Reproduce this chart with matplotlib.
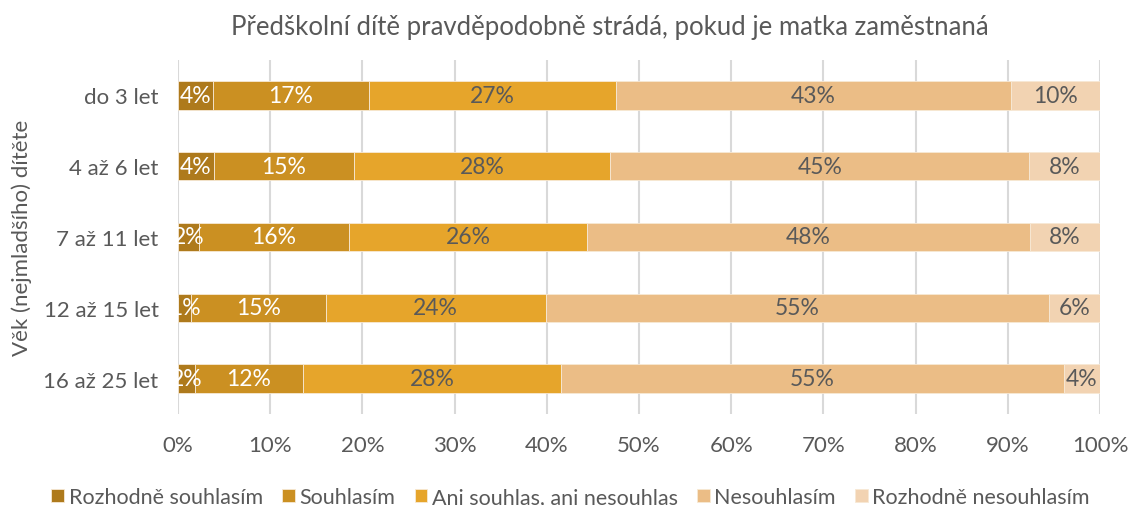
import numpy as np
import matplotlib.pyplot as plt

plt.rcParams['font.family'] = ['Lato', 'DejaVu Sans']

categories = ['do 3 let', '4 až 6 let', '7 až 11 let', '12 až 15 let', '16 až 25 let']
series = ['Rozhodně souhlasím', 'Souhlasím', 'Ani souhlas, ani nesouhlas',
          'Nesouhlasím', 'Rozhodně nesouhlasím']
values = np.array([
    [3.8, 16.9, 26.8, 42.8, 9.7],
    [3.9, 15.2, 27.8, 45.4, 7.7],
    [2.3, 16.2, 25.9, 48.0, 7.6],
    [1.4, 14.6, 23.9, 54.6, 5.5],
    [1.8, 11.8, 27.9, 54.6, 3.9],
])
colors = ['#AE7A1C', '#CB9022', '#E6A52B', '#EBBD86', '#F2D3B2']
text_colors = ['white', 'white', '#595959', '#595959', '#595959']

fig = plt.figure(figsize=(11.3, 5.06), dpi=100)
ax = fig.add_axes([178 / 1130, 1 - 415 / 506, 922 / 1130, 354 / 506])

y = np.arange(len(categories))
left = np.zeros(len(categories))
for j, name in enumerate(series):
    ax.barh(y, values[:, j], left=left, height=0.4, color=colors[j],
            edgecolor='#F7E9D5', linewidth=0.6, label=name, zorder=2)
    for i in range(len(categories)):
        ax.text(left[i] + values[i, j] / 2, y[i], '%d%%' % round(values[i, j]),
                ha='center', va='center', fontsize=16.5, color=text_colors[j],
                clip_on=True, zorder=3)
    left += values[:, j]

ax.set_xlim(0, 100)
ax.set_ylim(4.5, -0.5)
ax.set_xticks(np.arange(0, 101, 10))
ax.set_xticklabels(['%d%%' % v for v in range(0, 101, 10)])
ax.set_yticks(y)
ax.set_yticklabels(categories)
ax.tick_params(length=0, labelsize=16, colors='#595959', pad=14)
ax.tick_params(axis='x', pad=15)
ax.xaxis.grid(True, color='#D9D9D9', linewidth=1.5, zorder=0)
ax.set_axisbelow(True)
for s in ax.spines.values():
    s.set_visible(False)

ax.set_ylabel('Věk (nejmladšího) dítěte', fontsize=16, color='#595959', labelpad=8)
fig.text(610 / 1130, 1 - 28 / 506, 'Předškolní dítě pravděpodobně strádá, pokud je matka zaměstnaná',
         ha='center', va='center', fontsize=18.5, color='#595959')

fig.legend(loc='center', bbox_to_anchor=(0.505, 1 - 498 / 506), ncol=5, frameon=False,
           fontsize=15.5, labelcolor='#595959', handlelength=0.6, handleheight=0.6,
           handletextpad=0.2, columnspacing=0.9)

plt.savefig('out.png', dpi=100)
